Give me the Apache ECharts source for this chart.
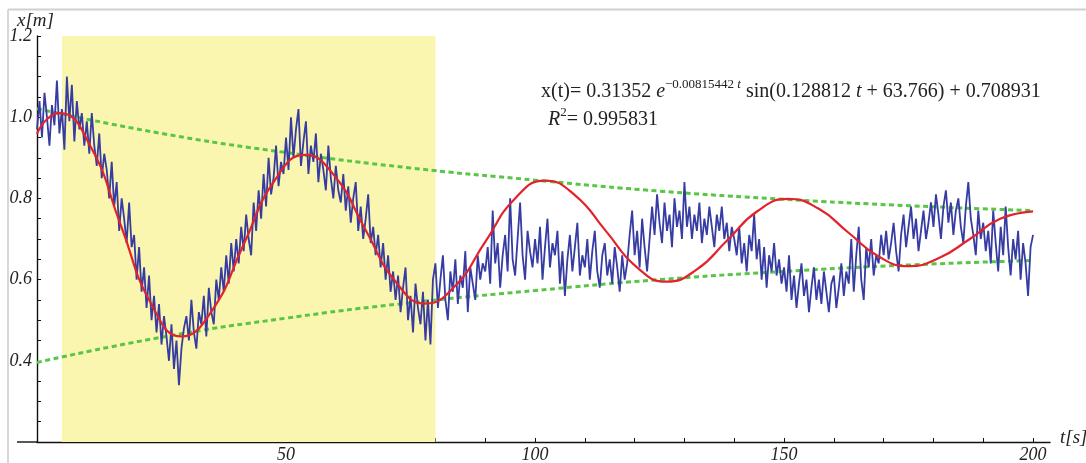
<!DOCTYPE html>
<html>
<head>
<meta charset="utf-8">
<script src="https://cdn.jsdelivr.net/npm/echarts@6/dist/echarts.min.js"></script>
<style>
html,body{margin:0;padding:0;background:#fff;}
#chart{width:1086px;height:463px;}
</style>
</head>
<body>
<div id="chart"></div>
<script>
// ---- data ----
const xTickLabels = [50, 100, 150, 200];
const xTickMarks = [10,20,30,40,50,60,70,80,90,100,110,120,130,140,150,160,170,180,190,200];
const yTickLabels = [0.4, 0.6, 0.8, 1.0, 1.2];
const yTickMarks = [0.25,0.3,0.35,0.4,0.45,0.5,0.55,0.6,0.65,0.7,0.75,0.8,0.85,0.9,0.95,1.0,1.05,1.1,1.15,1.2];

const highlightRange = [5, 80];

// measured signal, sampled every 0.5 s from t = 0
const sampleStart = 0;
const sampleStep = 0.5;
const measured = [
  0.97,1.04,0.95,1.06,1.00,0.93,1.03,0.98,1.09,0.96,1.02,0.92,1.10,0.99,1.08,0.94,1.04,0.97,1.01,0.93,
  0.99,0.91,1.01,0.93,0.88,0.96,0.85,0.91,0.87,0.80,0.89,0.78,0.84,0.72,0.80,0.75,0.69,0.79,0.68,0.71,
  0.60,0.68,0.57,0.63,0.53,0.61,0.50,0.56,0.47,0.54,0.44,0.51,0.46,0.40,0.49,0.38,0.45,0.34,0.43,0.48,
  0.51,0.45,0.55,0.47,0.43,0.52,0.49,0.56,0.46,0.58,0.52,0.49,0.60,0.55,0.63,0.57,0.66,0.59,0.69,0.62,
  0.70,0.64,0.73,0.67,0.76,0.70,0.66,0.79,0.72,0.82,0.75,0.86,0.78,0.90,0.81,0.85,0.93,0.83,0.89,0.86,
  0.95,0.87,1.00,0.90,0.97,1.02,0.88,0.94,0.99,0.86,0.93,0.89,0.96,0.84,0.91,0.87,0.82,0.93,0.85,0.80,
  0.88,0.82,0.79,0.86,0.77,0.83,0.74,0.80,0.84,0.72,0.78,0.70,0.75,0.81,0.69,0.73,0.66,0.71,0.63,0.69,
  0.60,0.66,0.57,0.62,0.55,0.61,0.52,0.58,0.63,0.50,0.56,0.47,0.59,0.53,0.49,0.57,0.45,0.55,0.44,0.60,
  0.64,0.53,0.60,0.66,0.55,0.50,0.62,0.57,0.65,0.54,0.61,0.58,0.67,0.52,0.63,0.59,0.55,0.66,0.60,0.64,
  0.62,0.68,0.59,0.77,0.64,0.69,0.58,0.66,0.71,0.62,0.80,0.65,0.61,0.70,0.79,0.66,0.60,0.72,0.67,0.63,
  0.70,0.64,0.73,0.60,0.68,0.75,0.63,0.69,0.66,0.72,0.59,0.67,0.56,0.65,0.71,0.62,0.68,0.74,0.61,0.66,
  0.63,0.70,0.60,0.67,0.72,0.62,0.58,0.66,0.69,0.61,0.65,0.59,0.68,0.63,0.57,0.66,0.60,0.64,0.71,0.77,
  0.66,0.72,0.63,0.75,0.68,0.62,0.70,0.78,0.71,0.81,0.74,0.69,0.79,0.72,0.76,0.68,0.80,0.73,0.77,0.70,
  0.84,0.73,0.78,0.70,0.76,0.72,0.79,0.69,0.75,0.71,0.78,0.73,0.68,0.76,0.72,0.78,0.70,0.74,0.67,0.73,
  0.70,0.66,0.73,0.64,0.69,0.62,0.71,0.67,0.76,0.65,0.70,0.60,0.68,0.58,0.66,0.62,0.69,0.61,0.65,0.59,
  0.63,0.57,0.66,0.55,0.61,0.53,0.59,0.64,0.56,0.60,0.52,0.58,0.63,0.55,0.60,0.54,0.62,0.57,0.52,0.59,
  0.61,0.53,0.58,0.64,0.56,0.62,0.59,0.70,0.57,0.66,0.73,0.60,0.55,0.68,0.63,0.70,0.61,0.66,0.64,0.71,
  0.66,0.72,0.65,0.69,0.74,0.67,0.62,0.71,0.76,0.68,0.73,0.78,0.70,0.75,0.67,0.72,0.77,0.70,0.74,0.79,
  0.73,0.81,0.76,0.70,0.78,0.82,0.74,0.79,0.71,0.77,0.80,0.73,0.69,0.78,0.84,0.75,0.71,0.66,0.77,0.70,
  0.74,0.67,0.72,0.64,0.77,0.69,0.62,0.73,0.66,0.78,0.68,0.61,0.70,0.65,0.72,0.60,0.69,0.64,0.56,0.68,
  0.71
];

// fitted curve, points
const fitT = [0,2,4.6,10.7,16.8,22.9,29,35.2,41.4,47.6,53.8,59.9,65.9,72,78,84,90,96,102,108.1,114.2,120.3,126.4,132.5,138.6,144.7,150.8,156.9,162.9,169,175,181.1,187.3,193.4,200];
const fitX = [0.959,0.995,1.010,0.929,0.735,0.541,0.460,0.525,0.684,0.842,0.907,0.853,0.724,0.595,0.541,0.585,0.693,0.800,0.844,0.807,0.720,0.632,0.595,0.625,0.697,0.769,0.799,0.775,0.716,0.657,0.633,0.653,0.700,0.750,0.768];

// envelope lines (green dotted)
const envT = [0,25,50,75,100,125,150,175,200];
const envUpper = [1.021,0.960,0.913,0.875,0.845,0.818,0.798,0.782,0.770];
const envLower = [0.396,0.458,0.505,0.543,0.573,0.600,0.620,0.636,0.647];

// ---- chart ----
const serif = '"Liberation Serif","DejaVu Serif",serif';
const zip = (a, b) => a.map((v, i) => [v, b[i]]);
const measuredData = measured.map((v, i) => [sampleStart + i * sampleStep, v]);

const mainRich = {
  n: {fontFamily: serif, fontSize: 20, lineHeight: 24, fill: '#222', verticalAlign: 'bottom'},
  i: {fontFamily: serif, fontSize: 20, fontStyle: 'italic', lineHeight: 24, fill: '#222', verticalAlign: 'bottom'},
  s: {fontFamily: serif, fontSize: 13, lineHeight: 18, fill: '#222', verticalAlign: 'top'},
  si: {fontFamily: serif, fontSize: 13, fontStyle: 'italic', lineHeight: 18, fill: '#222', verticalAlign: 'top'}
};

const chart = echarts.init(document.getElementById('chart'), null, {renderer: 'canvas'});
chart.setOption({
  animation: false,
  backgroundColor: '#ffffff',
  grid: {left: 37, right: 36, top: 36, bottom: 21, containLabel: false, outerBoundsMode: 'none'},
  xAxis: {
    type: 'value', min: 0, max: 203.4,
    axisLine: {onZero: false, lineStyle: {color: '#111', width: 1.4}},
    axisTick: {show: true, inside: true, length: 4, customValues: xTickMarks, lineStyle: {color: '#111', width: 1}},
    axisLabel: {customValues: xTickLabels, margin: 4, fontFamily: serif, fontStyle: 'italic', fontSize: 18, color: '#222'},
    splitLine: {show: false}
  },
  yAxis: {
    type: 'value', min: 0.2, max: 1.2,
    axisLine: {show: true, onZero: false, lineStyle: {color: '#111', width: 1.4}},
    axisTick: {show: true, inside: true, length: 4, customValues: yTickMarks, lineStyle: {color: '#111', width: 1}},
    axisLabel: {customValues: yTickLabels, margin: 5, fontFamily: serif, fontStyle: 'italic', fontSize: 18, color: '#222',
      formatter: v => v.toFixed(1)},
    splitLine: {show: false}
  },
  series: [
    {
      name: 'region', type: 'line', data: [[highlightRange[0], 0.7]], symbol: 'none', lineStyle: {opacity: 0}, z: 0,
      silent: true,
      markArea: {silent: true, itemStyle: {color: '#faf6b0', opacity: 1}, data: [[{xAxis: highlightRange[0]}, {xAxis: highlightRange[1]}]]}
    },
    {
      name: 'upper', type: 'line', data: zip(envT, envUpper), smooth: true, showSymbol: false, z: 3,
      lineStyle: {color: '#58c645', width: 3, type: [5, 3.5], cap: 'butt'}
    },
    {
      name: 'lower', type: 'line', data: zip(envT, envLower), smooth: true, showSymbol: false, z: 3,
      lineStyle: {color: '#58c645', width: 3, type: [5, 3.5], cap: 'butt'}
    },
    {
      name: 'measured', type: 'line', data: measuredData, showSymbol: false, z: 4,
      lineStyle: {color: '#363ca2', width: 1.8}
    },
    {
      name: 'fit', type: 'line', data: zip(fitT, fitX), smooth: true, showSymbol: false, z: 5,
      lineStyle: {color: '#e2232c', width: 2.2}
    }
  ],
  graphic: [
    {type: 'line', shape: {x1: 8, y1: 9.5, x2: 1086, y2: 9.5}, style: {stroke: '#d0d0d0', lineWidth: 2}, silent: true},
    {type: 'line', shape: {x1: 8, y1: 9.5, x2: 8, y2: 463}, style: {stroke: '#d8d8d8', lineWidth: 2}, silent: true},
    {type: 'line', shape: {x1: 17, y1: 442, x2: 38, y2: 442}, style: {stroke: '#111', lineWidth: 1.4}, silent: true},
    {type: 'text', left: 17, top: 11, style: {text: 'x[m]', font: 'italic 19px ' + serif, fill: '#222'}},
    {type: 'text', left: 1060, top: 428, style: {text: 't[s]', font: 'italic 19px ' + serif, fill: '#222'}},
    {type: 'text', left: 541, top: 78, style: {
      text: '{n|x(t)= 0.31352 }{i|e}{s|\u22120.00815442 }{si|t}{n| sin(0.128812 }{i|t}{n| + 63.766) + 0.708931}',
      rich: mainRich
    }},
    {type: 'text', left: 548, top: 106, style: {
      text: '{i|R}{s|2}{n|= 0.995831}',
      rich: mainRich
    }}
  ]
});
</script>
</body>
</html>
